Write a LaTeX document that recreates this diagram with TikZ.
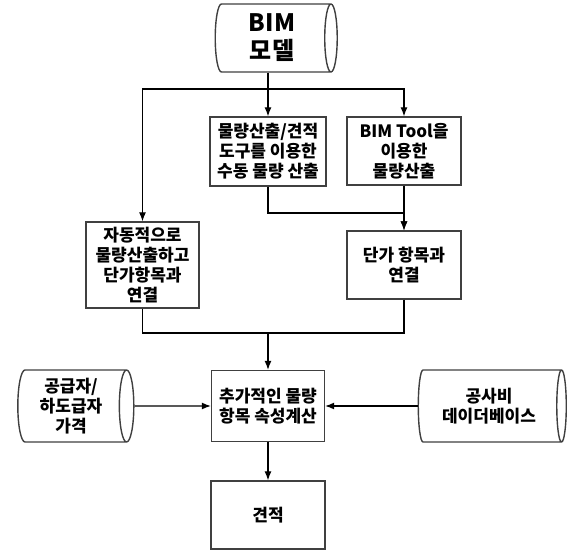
\documentclass[tikz,border=0pt]{standalone}
\usepackage{fontspec}
\setmainfont{Noto Sans CJK KR}
\usetikzlibrary{arrows.meta,shapes.geometric}
\tikzset{
  proc/.style={draw=black!75,line width=1.4pt,fill=white,align=center,
    font=\bfseries\fontsize{17}{20}\selectfont,inner sep=1pt},
  store/.style={proc,cylinder,aspect=0.25},
}

\begin{document}
\begin{tikzpicture}[x=1pt,y=-1pt,line width=1.1pt,>={Latex[length=9pt,width=7pt]}]
\useasboundingbox (0,0) rectangle (568,559);
\node[store,minimum height=122pt,minimum width=68pt,font=\bfseries\fontsize{24}{28}\selectfont] (bim) at (272,38) {BIM\\모델};
\node[proc,minimum width=116pt,minimum height=69pt] (man) at (268,151.5) {물량산출/견적\\도구를 이용한\\수동 물량 산출};
\node[proc,minimum width=114pt,minimum height=68pt] (tool) at (404,151) {BIM Tool을\\이용한\\물량산출};
\node[proc,minimum width=113pt,minimum height=86pt] (auto) at (142.5,265) {자동적으로\\물량산출하고\\단가항목과\\연결};
\node[proc,minimum width=114pt,minimum height=68pt] (link) at (404,265) {단가 항목과\\연결};
\node[proc,minimum width=113pt,minimum height=71pt] (attr) at (268,406) {추가적인 물량\\항목 속성계산};
\node[proc,minimum width=114pt,minimum height=68pt] (est) at (268,515) {견적};
\node[store,minimum height=116pt,minimum width=72pt] (sup) at (71,406) {공급자/\\하도급자\\가격};
\node[store,minimum height=148pt,minimum width=72pt] (db) at (489,406) {공사비\\데이더베이스};
\coordinate (top) at (268,89);
\coordinate (join) at (268,213);
\coordinate (merge) at (268,333);
% BIM model branches
\draw (bim.south -| top) -- (top);
\draw[->] (top) -| (auto);
\draw[->] (top) -- (man);
\draw[->] (top) -| (tool);
\draw[->] (man) -- (join) -| (link);
\draw[->] (tool) -- (link);
% merge into attributes
\draw (auto) |- (merge);
\draw (link) |- (merge);
\draw[->] (merge) -- (attr);
\draw[->] (sup) -- (attr);
\draw[->] (db) -- (attr);
\draw[->] (attr) -- (est);
\end{tikzpicture}
\end{document}
